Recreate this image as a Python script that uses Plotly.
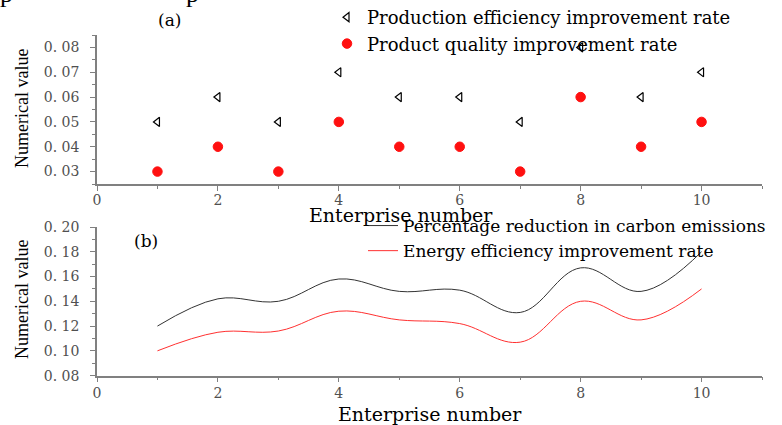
import plotly.graph_objects as go

enterprise = [1, 2, 3, 4, 5, 6, 7, 8, 9, 10]
prod_eff = [0.05, 0.06, 0.05, 0.07, 0.06, 0.06, 0.05, 0.08, 0.06, 0.07]
prod_quality = [0.03, 0.04, 0.03, 0.05, 0.04, 0.04, 0.03, 0.06, 0.04, 0.05]
carbon_red = [0.120, 0.142, 0.140, 0.158, 0.148, 0.149, 0.131, 0.167, 0.148, 0.180]
energy_eff = [0.100, 0.115, 0.116, 0.132, 0.125, 0.122, 0.107, 0.140, 0.125, 0.150]

xticks = [0, 2, 4, 6, 8, 10]
ya_ticks = [0.03, 0.04, 0.05, 0.06, 0.07, 0.08]
ya_labels = ["0. 03", "0. 04", "0. 05", "0. 06", "0. 07", "0. 08"]
yb_ticks = [0.08, 0.10, 0.12, 0.14, 0.16, 0.18, 0.20]
yb_labels = ["0. 08", "0. 10", "0. 12", "0. 14", "0. 16", "0. 18", "0. 20"]

SERIF = "Liberation Serif"
WIDE = "DejaVu Serif"
AX = "#808080"
TICKFONT = dict(family=WIDE, size=14, color="#505050")

W, H = 782, 425


def px(xp):
    return xp / W


def py(yp):
    return 1 - yp / H


fig = go.Figure()

fig.add_trace(go.Scatter(
    x=enterprise, y=prod_eff, mode="markers", name="Production efficiency improvement rate",
    marker=dict(symbol="triangle-left-open", size=8, color="black", line=dict(width=1.2, color="black")),
    xaxis="x", yaxis="y", legend="legend"))
fig.add_trace(go.Scatter(
    x=enterprise, y=prod_quality, mode="markers", name="Product quality improvement rate",
    marker=dict(symbol="circle", size=9.5, color="#ff1010", line=dict(width=1, color="#ff1010")),
    xaxis="x", yaxis="y", legend="legend"))

fig.add_trace(go.Scatter(
    x=enterprise, y=carbon_red, mode="lines", name="Percentage reduction in carbon emissions",
    line=dict(shape="spline", smoothing=1.1, color="#333333", width=1),
    xaxis="x2", yaxis="y2", legend="legend2"))
fig.add_trace(go.Scatter(
    x=enterprise, y=energy_eff, mode="lines", name="Energy efficiency improvement rate",
    line=dict(shape="spline", smoothing=1.1, color="#ff3030", width=1),
    xaxis="x2", yaxis="y2", legend="legend2"))

xdom = [px(97), px(762)]
common_x = dict(range=[0, 11], tickvals=xticks, showgrid=False, zeroline=False, automargin=False,
                showline=True, linecolor=AX, linewidth=1.6, ticks="outside", ticklen=5,
                tickcolor=AX, tickwidth=1.2, tickfont=TICKFONT,
                minor=dict(dtick=1, tick0=0, ticks="outside", ticklen=3, tickcolor=AX))
common_y = dict(showgrid=False, zeroline=False, showline=True, linecolor=AX, linewidth=1.6,
                automargin=False, ticks="outside", ticklen=5, tickcolor=AX, tickwidth=1.2,
                tickfont=TICKFONT, ticklabelstandoff=8)

title_font = dict(family=WIDE, size=19, color="black")
ytitle_font = dict(family=SERIF, size=18, color="black")


def note(text, xp, yp, font, angle=0):
    return dict(text=text, x=px(xp), y=py(yp), xref="paper", yref="paper", showarrow=False,
                xanchor="center", yanchor="middle", textangle=angle, font=font)


fig.update_layout(
    width=W, height=H, margin=dict(l=0, r=0, t=0, b=0, autoexpand=False),
    paper_bgcolor="white", plot_bgcolor="white",
    xaxis=dict(domain=xdom, anchor="y", ticklabelstandoff=-3, **common_x),
    yaxis=dict(domain=[py(184), py(35)], range=[0.025, 0.085], anchor="x",
               tickvals=ya_ticks, ticktext=ya_labels,
               minor=dict(dtick=0.005, tick0=0.025, ticks="outside", ticklen=3, tickcolor=AX),
               **common_y),
    xaxis2=dict(domain=xdom, anchor="y2", ticklabelstandoff=-1, **common_x),
    yaxis2=dict(domain=[py(375.6), py(227)], range=[0.08, 0.20], anchor="x2",
                tickvals=yb_ticks, ticktext=yb_labels,
                minor=dict(dtick=0.01, tick0=0.08, ticks="outside", ticklen=3, tickcolor=AX),
                **common_y),
    legend=dict(x=px(327), y=py(-1), xanchor="left", yanchor="top", bgcolor="rgba(0,0,0,0)",
                font=dict(family=WIDE, size=18, color="black"), tracegroupgap=0, itemwidth=30),
    legend2=dict(x=px(363), y=py(208), xanchor="left", yanchor="top", bgcolor="rgba(0,0,0,0)",
                 font=dict(family=WIDE, size=17, color="black"), tracegroupgap=0, itemwidth=30),
    showlegend=True,
    annotations=[
        note("(a)", 169, 20, dict(family=WIDE, size=17, color="black")),
        note("(b)", 146, 241, dict(family=WIDE, size=17, color="black")),
        note("Enterprise number", 401, 215, title_font),
        note("Enterprise number", 430, 414, title_font),
        note("Numerical value", 22, 109, ytitle_font, -90),
        note("Numerical value", 22, 300, ytitle_font, -90),
        dict(text="p", x=px(6), y=py(10), xref="paper", yref="paper", showarrow=False,
             xanchor="center", yanchor="bottom", font=dict(family=SERIF, size=26, color="black")),
        dict(text="p", x=px(192), y=py(10), xref="paper", yref="paper", showarrow=False,
             xanchor="center", yanchor="bottom", font=dict(family=SERIF, size=26, color="black")),
    ],
)

fig.write_html("out.html", config={"displayModeBar": False},
               post_script="document.body.style.margin='0';")
